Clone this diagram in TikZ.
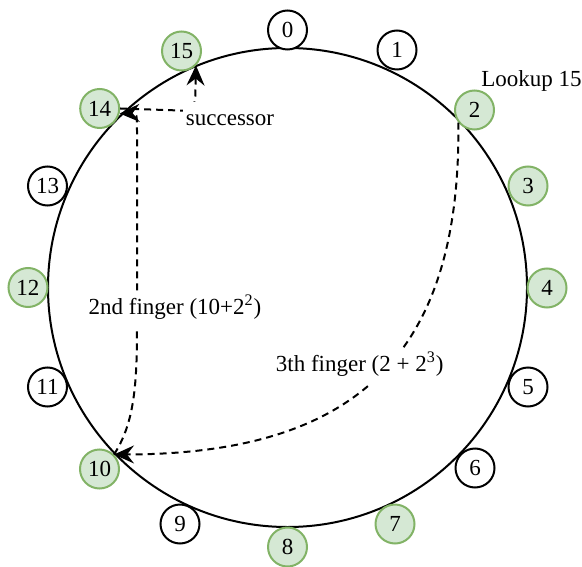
\documentclass[tikz,border=0pt]{standalone}
\usepackage{fontspec}
\setmainfont{Liberation Serif}
\usepackage{tikz}
\usetikzlibrary{arrows.meta}
\definecolor{member}{HTML}{82B366}
\definecolor{memberfill}{HTML}{D5E8D4}
\newcommand{\ringfont}{\rmfamily\fontsize{11.5}{14}\selectfont}
\tikzset{
  peer/.style={circle, draw=black, fill=white, line width=1pt,
    minimum size=19.5pt, inner sep=0pt},
  livepeer/.style={peer, draw=member, fill=memberfill},
  ring/.style={line width=1pt},
  finger/.style={-{Stealth[length=10pt,width=9pt,inset=3.5pt]}, line width=1pt,
    dash pattern=on 3.5pt off 2.5pt},
  hoplabel/.style={fill=white, inner xsep=1.5pt, inner ysep=4pt,
    text height=0.75em, text depth=0.25em, anchor=base}
}

\begin{document}
\begin{tikzpicture}[x=0.5pt,y=-0.5pt,font=\ringfont]
  \useasboundingbox (0,0) rectangle (582,566);
  \draw[ring] (287.5,287.5) circle[radius=239.5];
  \foreach \n/\px/\py in {0/287.5/30, 1/397/50, 5/528/387, 6/475/468,
                          9/180/524, 11/47.5/387, 13/47.5/186} {
    \node[peer] (n\n) at (\px,\py) {\n};
  }
  \foreach \n/\px/\py in {2/474.5/110, 3/528/186, 4/547/288, 7/395/524,
                          8/287.5/547, 10/99.5/469, 12/28/287.5,
                          14/99.7/108.5, 15/181.5/51} {
    \node[livepeer] (n\n) at (\px,\py) {\n};
  }
  \node[anchor=base west, inner sep=0pt] (lookup) at (481,86.7) {Lookup 15};

  \coordinate (bend) at (195,111);
  \draw[finger, rounded corners=6pt] (n14.east) -- (bend) -- (n15.-45);
  \node[hoplabel] (succ) at (230,125.3) {successor};

  \draw[finger] (n10.45) .. controls (133,425) and (137,390) .. (137,330)
    -- (137,135) .. controls (137,113) .. (n14.-14);
  \node[hoplabel] (second) at (175,314) {2nd finger (10+2\textsuperscript{2})};

  \draw[finger] (n2.218) .. controls (461,354) and (357,454) .. (n10.45);
  \node[hoplabel] (third) at (359.7,371.7) {3th finger (2 + 2\textsuperscript{3})};
\end{tikzpicture}
\end{document}
